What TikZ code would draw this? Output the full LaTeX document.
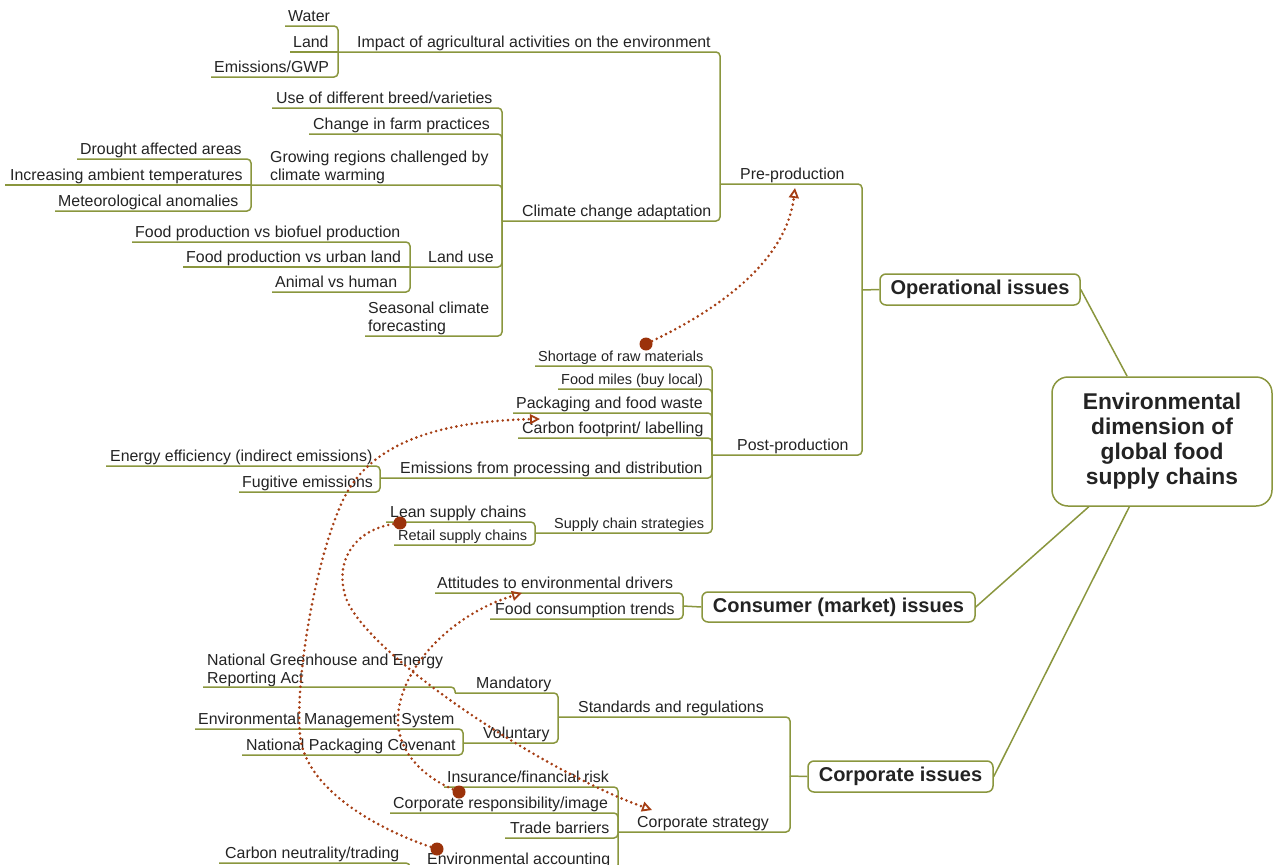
\documentclass[tikz,border=0pt]{standalone}
\usepackage{fontspec}
\setmainfont{Liberation Sans}
\usetikzlibrary{arrows.meta}
\definecolor{olivetwo}{RGB}{138,150,62}
\definecolor{brn}{RGB}{165,62,20}
\definecolor{brndot}{RGB}{155,50,10}
\definecolor{txt}{RGB}{35,35,35}
\newcommand\mmtopic[7][4.5]{%
  \coordinate (#2-u) at (#3,#4);
  \node[#6, anchor=base west] (#2) at (#5,#4-#1) {#7};}
\begin{document}
\begin{tikzpicture}[x=1pt,y=-1pt,
  tnode/.style={inner sep=0pt, text=txt, font=\fontsize{15.9}{18}\selectfont},
  tsmall/.style={tnode, font=\fontsize{14.5}{17}\selectfont},
  tmulti/.style={tnode, align=left},
  link/.style={draw=olivetwo, line width=1.5pt, rounded corners=4pt},
  box/.style={draw=olivetwo, line width=1.5pt, fill=white, rounded corners=6pt, inner sep=0pt, text=txt, font=\bfseries\fontsize{20}{24}\selectfont},
  dotlink/.style={draw=brn, line width=2.9pt, line cap=round, dash pattern=on 0pt off 5.2pt, -{Triangle[open, length=10pt, width=10pt, line width=1.8pt]}},
  dotnode/.style={circle, fill=brndot, inner sep=0pt, minimum size=13pt}]
\useasboundingbox (0,0) rectangle (1275,865);
\clip (0,0) rectangle (1275,865);

% main boxes
\node[box, minimum width=200pt, minimum height=31pt] (op) at (980,289.5) {Operational issues};
\node[box, minimum width=273pt, minimum height=30pt] (cons) at (838.5,607) {Consumer (market) issues};
\node[box, minimum width=185pt, minimum height=31pt] (corp) at (900.5,776.5) {Corporate issues};
\node[box, rounded corners=16pt, minimum width=220pt, minimum height=129pt, align=center, font=\bfseries\fontsize{22.8}{25}\selectfont] (central) at (1162,441.5) {Environmental\\dimension of\\global food\\supply chains};

\coordinate (ophub) at (862,290);
\coordinate (conshub) at (683,606);
\coordinate (corphub) at (790,776);

% topics
\mmtopic{water}{285}{26}{288}{tnode}{Water}
\mmtopic{land}{290}{52}{293}{tnode}{Land}
\mmtopic{emis}{211}{77}{214}{tnode}{Emissions/GWP}
\mmtopic{impact}{338}{52}{357}{tnode}{Impact of agricultural activities on the environment}
\mmtopic{breed}{272}{108}{276}{tnode}{Use of different breed/varieties}
\mmtopic{farm}{309}{134}{313}{tnode}{Change in farm practices}
\mmtopic{drought}{77}{159}{80}{tnode}{Drought affected areas}
\mmtopic{incr}{5}{185}{10}{tnode}{Increasing ambient temperatures}
\mmtopic{meteo}{55}{211}{58}{tnode}{Meteorological anomalies}
\mmtopic{growing}{251}{185}{270}{tmulti}{Growing regions challenged by\\climate warming}
\mmtopic{biofuel}{132}{242}{135}{tnode}{Food production vs biofuel production}
\mmtopic{urban}{183}{267}{186}{tnode}{Food production vs urban land}
\mmtopic{animal}{272}{292}{275}{tnode}{Animal vs human}
\mmtopic{landuse}{410}{267}{428}{tnode}{Land use}
\mmtopic{seasonal}{365}{336}{368}{tmulti}{Seasonal climate\\forecasting}
\mmtopic{climate}{502}{221}{522}{tnode}{Climate change adaptation}
\mmtopic{preprod}{720}{184}{740}{tnode}{Pre-production}
\mmtopic{shortage}{535}{366}{538}{tsmall}{Shortage of raw materials}
\mmtopic{miles}{558}{389}{561}{tsmall}{Food miles (buy local)}
\mmtopic{packaging}{513}{413}{516}{tnode}{Packaging and food waste}
\mmtopic{carbon}{518}{438}{522}{tnode}{Carbon footprint/ labelling}
\mmtopic{energy}{106}{466}{110}{tnode}{Energy efficiency (indirect emissions)}
\mmtopic{fugitive}{239}{492}{242}{tnode}{Fugitive emissions}
\mmtopic{emproc}{380}{478}{400}{tnode}{Emissions from processing and distribution}
\mmtopic{lean}{386}{522}{390}{tnode}{Lean supply chains}
\mmtopic{retail}{394}{545}{398}{tsmall}{Retail supply chains}
\mmtopic{supply}{535}{533}{554}{tsmall}{Supply chain strategies}
\mmtopic{postprod}{712}{455}{737}{tnode}{Post-production}
\mmtopic{attitudes}{435}{593}{437}{tnode}{Attitudes to environmental drivers}
\mmtopic{foodcons}{490}{619}{495}{tnode}{Food consumption trends}
\mmtopic[4]{nger}{203}{687}{207}{tmulti}{National Greenhouse and Energy\\Reporting Act}
\mmtopic{mandatory}{455}{693}{476}{tnode}{Mandatory}
\mmtopic{ems}{195}{729}{198}{tnode}{Environmental Management System}
\mmtopic{npc}{242}{755}{246}{tnode}{National Packaging Covenant}
\mmtopic{voluntary}{463}{743}{483}{tnode}{Voluntary}
\mmtopic{standards}{558}{717}{578}{tnode}{Standards and regulations}
\mmtopic{insurance}{444}{787}{447}{tnode}{Insurance/financial risk}
\mmtopic{corpresp}{390}{813}{393}{tnode}{Corporate responsibility/image}
\mmtopic{trade}{505}{838}{510}{tnode}{Trade barriers}
\mmtopic{envacc}{410}{869}{427}{tnode}{Environmental accounting}
\mmtopic{carbonn}{219}{863}{225}{tnode}{Carbon neutrality/trading}
\mmtopic{corpstrat}{618}{832}{637}{tnode}{Corporate strategy}

% central connectors
\draw[link] (op.east) -- (central);
\draw[link] (cons.east) -- (central);
\draw[link] (corp.east) -- (central);

% operational branch
\draw[link] (water-u) -| (impact-u);
\draw[link] (land-u) -- (impact-u);
\draw[link] (emis-u) -| (impact-u);
\draw[link] (impact-u) -| (preprod-u);
\draw[link] (climate-u) -| (preprod-u);
\draw[link] (breed-u) -| (climate-u);
\draw[link] (farm-u) -| (climate-u);
\draw[link] (growing-u) -| (climate-u);
\draw[link] (landuse-u) -| (climate-u);
\draw[link] (seasonal-u) -| (climate-u);
\draw[link] (drought-u) -| (growing-u);
\draw[link] (incr-u) -- (growing-u);
\draw[link] (meteo-u) -| (growing-u);
\draw[link] (biofuel-u) -| (landuse-u);
\draw[link] (urban-u) -- (landuse-u);
\draw[link] (animal-u) -| (landuse-u);
\draw[link] (preprod-u) -| (ophub);
\draw[link] (postprod-u) -| (ophub);
\draw[link] (ophub) -- (op.west);
\draw[link] (shortage-u) -| (postprod-u);
\draw[link] (miles-u) -| (postprod-u);
\draw[link] (packaging-u) -| (postprod-u);
\draw[link] (carbon-u) -| (postprod-u);
\draw[link] (emproc-u) -| (postprod-u);
\draw[link] (supply-u) -| (postprod-u);
\draw[link] (energy-u) -| (emproc-u);
\draw[link] (fugitive-u) -| (emproc-u);
\draw[link] (lean-u) -| (supply-u);
\draw[link] (retail-u) -| (supply-u);

% consumer branch
\draw[link] (attitudes-u) -| (conshub);
\draw[link] (foodcons-u) -| (conshub);
\draw[link] (conshub) -- (cons.west);

% corporate branch
\draw[link] (standards-u) -| (corphub);
\draw[link] (corpstrat-u) -| (corphub);
\draw[link] (corphub) -- (corp.west);
\draw[link] (mandatory-u) -| (standards-u);
\draw[link] (voluntary-u) -| (standards-u);
\draw[link] (nger-u) -| (mandatory-u);
\draw[link] (ems-u) -| (voluntary-u);
\draw[link] (npc-u) -| (voluntary-u);
\draw[link] (insurance-u) -| (corpstrat-u);
\draw[link] (corpresp-u) -| (corpstrat-u);
\draw[link] (trade-u) -| (corpstrat-u);
\draw[link] (envacc-u) -| (corpstrat-u);
\draw[link] (carbonn-u) -| (envacc-u);

% relationship arrows
\node[dotnode] (d1) at (646,344) {};
\node[dotnode] (d2) at (437,849) {};
\node[dotnode] (d3) at (400,523) {};
\node[dotnode] (d4) at (459,792) {};
\coordinate (a1) at (795,188);
\coordinate (a2) at (540,419);
\coordinate (a3) at (652,810);
\coordinate (a4) at (522,593);
\draw[dotlink] (d1) .. controls (700,318) and (785,270) .. (a1);
\draw[dotlink] (d2) .. controls (380,830) and (305,790) .. (300,735) .. controls (295,680) and (315,560) .. (343,500) .. controls (360,465) and (400,422) .. (a2);
\draw[dotlink] (d3) .. controls (355,530) and (335,560) .. (345,595) .. controls (360,650) and (540,770) .. (a3);
\draw[dotlink] (d4) .. controls (420,775) and (398,750) .. (398,720) .. controls (398,670) and (450,615) .. (a4);
\end{tikzpicture}
\end{document}
